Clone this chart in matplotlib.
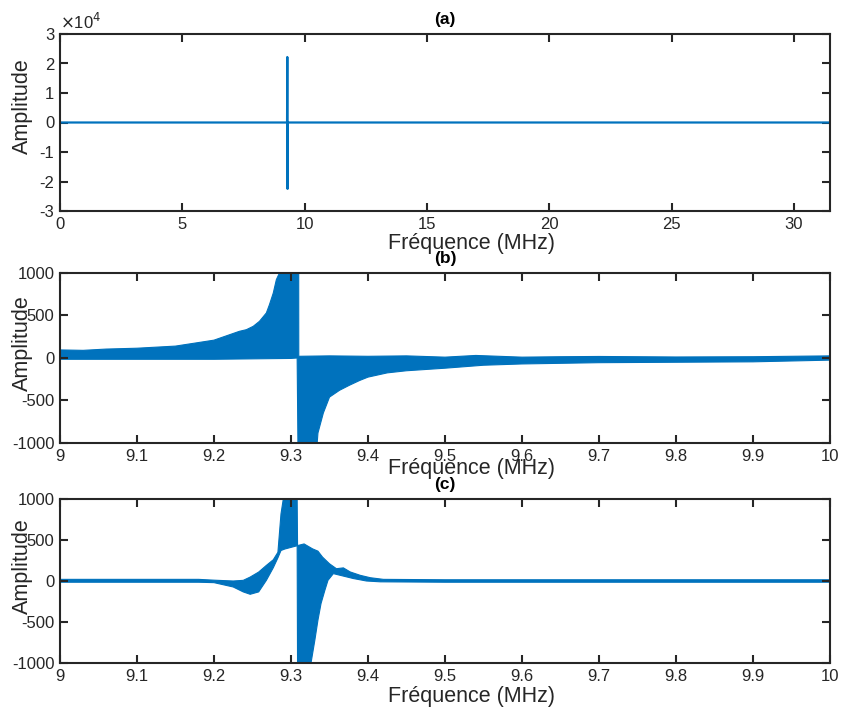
import numpy as np
import matplotlib
matplotlib.use('Agg')
import matplotlib.pyplot as plt
from matplotlib.ticker import FuncFormatter

## Data
# (a) full spectrum: flat line with one spike near 9.3 MHz
freq_a = [0.0, 9.28, 9.29, 9.30, 9.31, 31.47]
amp_a = [0.0, 0.0, 22200.0, -22500.0, 0.0, 0.0]

# (b) zoom 9-10 MHz, upper / lower envelope of the dense oscillation
freq_b_up = [9.000, 9.030, 9.060, 9.100, 9.150, 9.200, 9.233, 9.242, 9.251, 9.259, 9.268, 9.272,
             9.277, 9.281, 9.285, 9.310, 9.3101, 9.350, 9.400, 9.450, 9.500, 9.540, 9.600, 9.650,
             9.700, 9.800, 9.900, 10.000]
amp_b_up = [95, 90, 105, 115, 140, 210, 314, 333, 373, 431, 530, 627,
            765, 922, 1000, 1000, 20, 25, 20, 25, 10, 30, 10, 15,
            18, 12, 15, 25]
freq_b_lo = [9.000, 9.100, 9.200, 9.300, 9.308, 9.309, 9.334, 9.335, 9.342, 9.350, 9.363, 9.376,
             9.389, 9.400, 9.425, 9.450, 9.500, 9.550, 9.600, 9.700, 9.800, 9.900, 10.000]
amp_b_lo = [-15, -15, -15, -5, 0, -1000, -1000, -882, -647, -460, -380, -320,
            -265, -225, -175, -150, -120, -85, -70, -55, -50, -45, -25]

# (c) zoom 9-10 MHz, second signal
freq_c_up = [9.000, 9.100, 9.180, 9.200, 9.225, 9.238, 9.247, 9.258, 9.268, 9.277, 9.283, 9.287,
             9.290, 9.308, 9.3085, 9.317, 9.328, 9.335, 9.341, 9.350, 9.359, 9.368, 9.377, 9.390,
             9.403, 9.420, 9.500, 9.600, 9.700, 9.800, 9.900, 10.000]
amp_c_up = [20, 20, 20, 10, 0, 8, 48, 109, 190, 259, 350, 818,
            1000, 1000, 432, 452, 392, 364, 291, 210, 150, 160, 110, 69,
            40, 20, 15, 15, 15, 15, 15, 15]
freq_c_lo = [9.000, 9.100, 9.180, 9.200, 9.225, 9.238, 9.247, 9.258, 9.268, 9.277, 9.283, 9.287,
             9.292, 9.308, 9.3085, 9.326, 9.331, 9.335, 9.339, 9.344, 9.348, 9.355, 9.368, 9.381,
             9.398, 9.416, 9.500, 9.600, 9.700, 9.800, 9.900, 10.000]
amp_c_lo = [-15, -15, -15, -20, -73, -133, -162, -133, 8, 162, 283, 372,
            390, 430, -1000, -1000, -720, -477, -275, -113, 8, 90, 60, 30,
            0, -10, -15, -15, -15, -15, -15, -15]

zoom_ticks = [9.0, 9.1, 9.2, 9.3, 9.4, 9.5, 9.6, 9.7, 9.8, 9.9, 10.0]
zoom_labels = ['9', '9.1', '9.2', '9.3', '9.4', '9.5', '9.6', '9.7', '9.8', '9.9', '10']

line_col = '#0072BD'
axis_col = '#262626'

plt.rcParams['font.family'] = ['Liberation Sans', 'DejaVu Sans']
plt.rcParams['axes.unicode_minus'] = False

fig = plt.figure(figsize=(8.45, 7.1), dpi=100)

def style_axes(ax, title, lab_y):
	ax.tick_params(direction='in', top=True, right=True, length=6, width=1.5,
		colors=axis_col, labelsize=12, pad=4)
	for s in ax.spines.values():
		s.set_linewidth(1.5)
		s.set_color(axis_col)
	ax.set_title(title, fontsize=12.5, fontweight='bold', pad=7)
	ax.set_xlabel('Fréquence (MHz)', fontsize=15.5, color=axis_col)
	ax.set_ylabel('Amplitude', fontsize=15.5, color=axis_col)
	ax.xaxis.set_label_coords(0.534, lab_y)
	ax.xaxis.label.set_va('top')
	ax.yaxis.set_label_coords(-0.035, 0.59)

def envelope(ax, f_up, a_up, f_lo, a_lo):
	## polygon between upper and lower envelope
	xs = np.concatenate([f_up, f_lo[::-1]])
	ys = np.concatenate([a_up, a_lo[::-1]])
	ax.fill(xs, ys, color=line_col, linewidth=0.8, edgecolor=line_col)

## (a)
ax_a = fig.add_axes([60/845, 1-211/710, 770/845, 177/710])
ax_a.plot(freq_a, amp_a, color=line_col, linewidth=1.6)
ax_a.set_xlim(0, 31.47)
ax_a.set_ylim(-30000, 30000)
ax_a.set_xticks([0, 5, 10, 15, 20, 25, 30])
ax_a.set_yticks([-30000, -20000, -10000, 0, 10000, 20000, 30000])
ax_a.yaxis.set_major_formatter(FuncFormatter(lambda v, p: '%g' % (v/1e4)))
ax_a.text(0.0, 1.01, r'$\times$10$^4$', transform=ax_a.transAxes, fontsize=12,
	color=axis_col, ha='left', va='bottom')
style_axes(ax_a, '(a)', -0.125)

## (b)
ax_b = fig.add_axes([60/845, 1-443/710, 770/845, 170/710])
envelope(ax_b, np.array(freq_b_up), np.array(amp_b_up), np.array(freq_b_lo), np.array(amp_b_lo))
ax_b.set_xlim(9, 10)
ax_b.set_ylim(-1000, 1000)
ax_b.set_xticks(zoom_ticks)
ax_b.set_xticklabels(zoom_labels)
ax_b.set_yticks([-1000, -500, 0, 500, 1000])
style_axes(ax_b, '(b)', -0.088)

## (c)
ax_c = fig.add_axes([60/845, 1-663/710, 770/845, 164/710])
envelope(ax_c, np.array(freq_c_up), np.array(amp_c_up), np.array(freq_c_lo), np.array(amp_c_lo))
ax_c.set_xlim(9, 10)
ax_c.set_ylim(-1000, 1000)
ax_c.set_xticks(zoom_ticks)
ax_c.set_xticklabels(zoom_labels)
ax_c.set_yticks([-1000, -500, 0, 500, 1000])
style_axes(ax_c, '(c)', -0.14)

fig.savefig('out.png', dpi=100)
